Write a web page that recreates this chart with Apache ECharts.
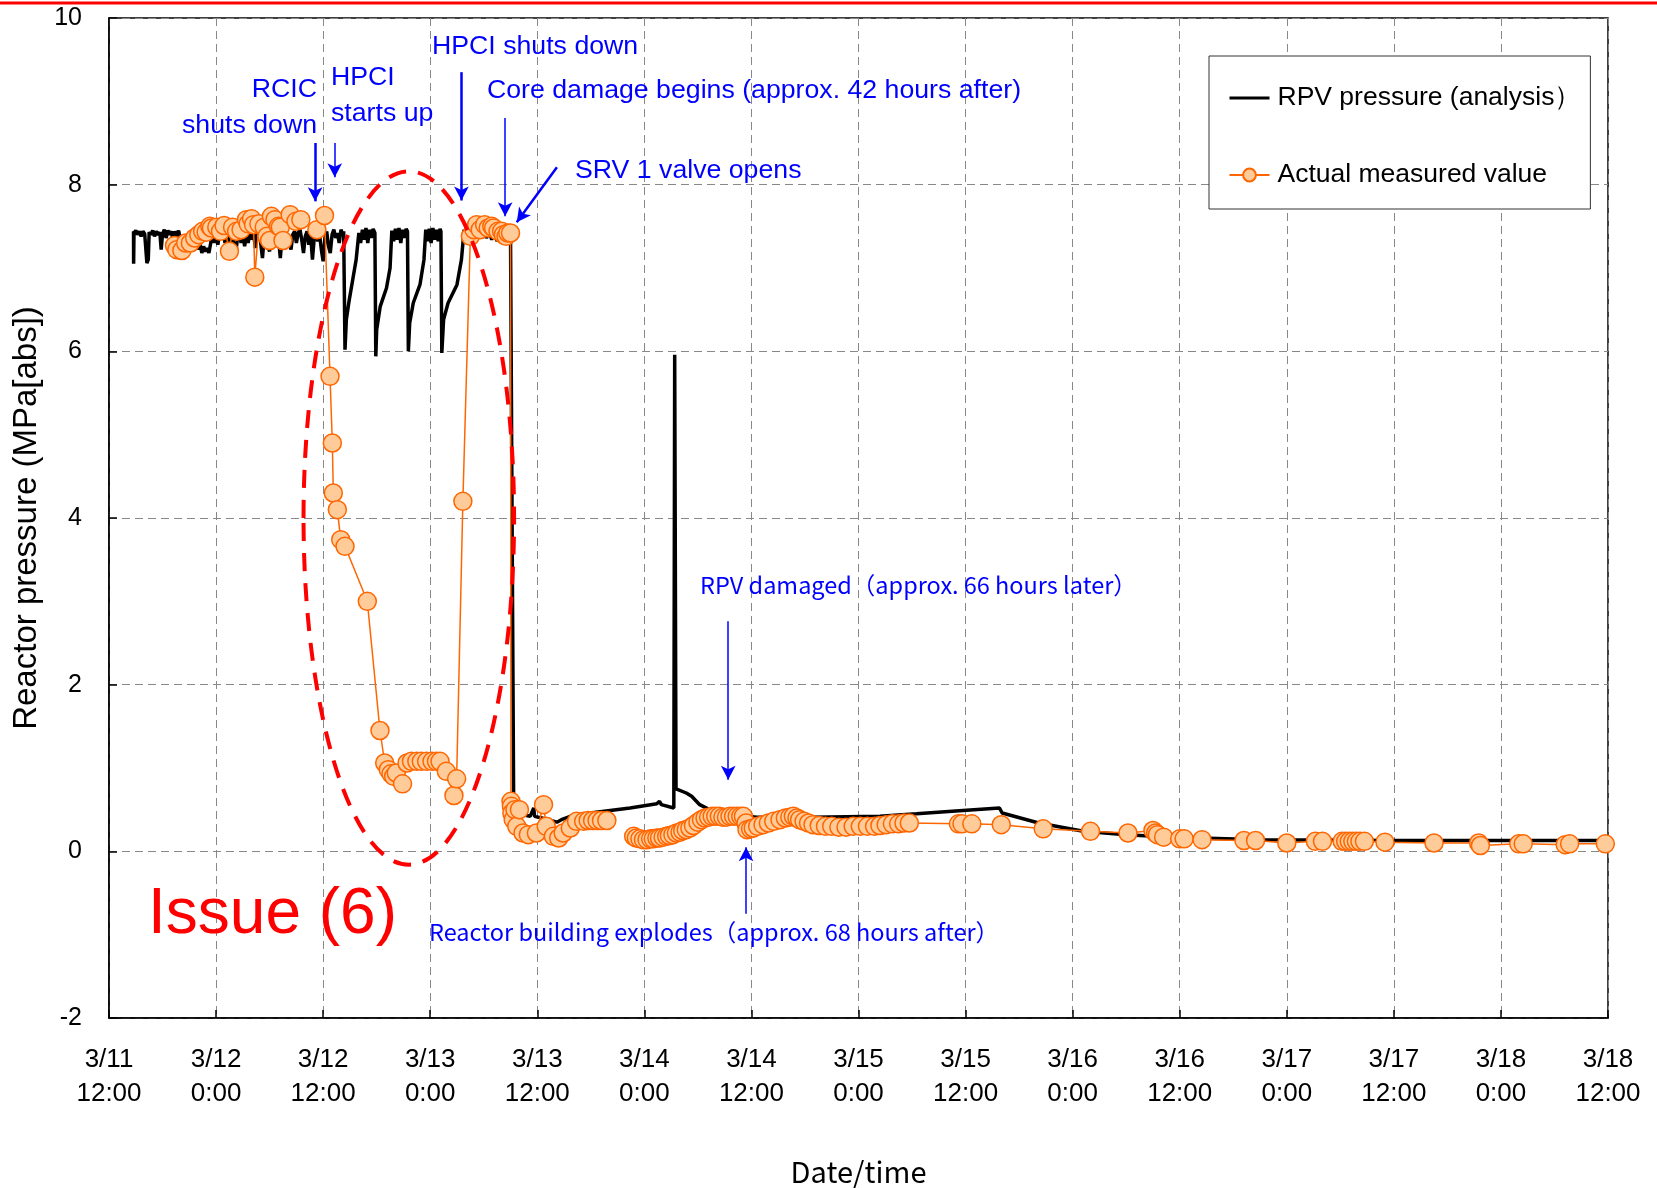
<!DOCTYPE html>
<html>
<head>
<meta charset="utf-8">
<title>Reactor pressure</title>
<style>
  html, body { margin: 0; padding: 0; background: #fff; }
</style>
</head>
<body>
<!-- chart area -->
<div id="container" style="width:1657px;height:1188px;"></div>
<script src="https://cdn.jsdelivr.net/npm/echarts@6/dist/echarts.min.js"></script>
<script type="text/javascript">
'use strict'
// x values are hours after 3/11 12:00, one tick every 12 hours
var tickLabels = ['3/11\n12:00', '3/12\n0:00', '3/12\n12:00', '3/13\n0:00', '3/13\n12:00',
  '3/14\n0:00', '3/14\n12:00', '3/15\n0:00', '3/15\n12:00', '3/16\n0:00', '3/16\n12:00',
  '3/17\n0:00', '3/17\n12:00', '3/18\n0:00', '3/18\n12:00'];

// RPV pressure (analysis) [hours, MPa]
var rpvAnalysis = [
  [2.75, 7.44], [2.76, 7.05], [2.8, 7.42], [3.0, 7.45], [3.2, 7.40], [3.4, 7.44], [3.6, 7.38], [3.8, 7.44],
  [4.0, 7.41], [4.2, 7.43], [4.25, 7.06], [4.4, 7.10], [4.5, 7.43], [4.7, 7.40], [4.9, 7.45], [5.1, 7.38],
  [5.3, 7.44], [5.5, 7.40], [5.7, 7.43], [5.85, 7.22], [6.0, 7.41], [6.2, 7.46], [6.4, 7.36], [6.6, 7.45],
  [6.8, 7.40], [7.0, 7.44], [7.2, 7.30], [7.4, 7.44], [7.6, 7.38], [7.8, 7.45], [8.0, 7.34], [8.2, 7.28],
  [8.4, 7.40], [8.6, 7.32], [8.8, 7.16], [9.0, 7.38], [9.2, 7.26], [9.4, 7.36], [9.6, 7.24], [9.8, 7.34],
  [10.0, 7.22], [10.2, 7.30], [10.4, 7.18], [10.6, 7.26], [10.8, 7.20], [11.0, 7.24], [11.2, 7.18], [11.4, 7.30],
  [11.6, 7.42], [11.8, 7.30], [12.0, 7.40], [12.2, 7.28], [12.4, 7.42], [12.6, 7.34], [12.8, 7.44], [13.0, 7.30],
  [13.2, 7.40], [13.4, 7.20], [13.6, 7.38], [13.8, 7.44], [14.0, 7.26], [14.2, 7.18], [14.4, 7.36], [14.6, 7.44],
  [14.8, 7.30], [15.0, 7.42], [15.2, 7.26], [15.4, 7.40], [15.6, 7.30], [15.8, 7.44], [16.0, 7.34], [16.2, 7.42],
  [16.4, 7.24], [16.6, 7.40], [16.8, 7.46], [17.0, 7.30], [17.2, 7.12], [17.4, 7.38], [17.6, 7.44], [17.8, 7.26],
  [18.0, 7.20], [18.2, 7.40], [18.4, 7.44], [18.6, 7.32], [18.8, 7.42], [19.0, 7.36], [19.2, 7.12], [19.4, 7.38],
  [19.6, 7.30], [19.8, 7.44], [20.0, 7.46], [20.2, 7.32], [20.4, 7.22], [20.6, 7.40], [20.8, 7.44], [21.0, 7.30],
  [21.2, 7.42], [21.4, 7.46], [21.6, 7.34], [21.8, 7.18], [22.0, 7.38], [22.2, 7.44], [22.4, 7.28], [22.6, 7.40],
  [22.8, 7.10], [23.0, 7.36], [23.2, 7.44], [23.4, 7.32], [23.6, 7.40], [23.8, 7.22], [24.0, 7.08], [24.2, 7.36],
  [24.4, 7.44], [24.6, 7.26], [24.8, 7.18], [25.0, 7.40], [25.2, 7.46], [25.4, 7.36], [25.6, 7.42], [25.8, 7.30],
  [26.0, 7.46], [26.2, 7.40], [26.3, 7.44],
  [26.45, 6.02], [26.6, 6.38], [26.9, 6.60], [27.3, 6.85], [27.7, 7.10], [28.0, 7.42], [28.2, 7.30], [28.4, 7.46],
  [28.6, 7.34], [28.8, 7.48], [29.0, 7.30], [29.2, 7.46], [29.4, 7.36], [29.6, 7.47], [29.8, 7.42],
  [29.9, 5.94], [30.0, 6.26], [30.4, 6.54], [31.1, 6.76], [31.5, 7.00], [31.7, 7.45], [31.9, 7.32], [32.1, 7.47],
  [32.3, 7.34], [32.5, 7.48], [32.7, 7.30], [32.9, 7.46], [33.1, 7.36], [33.3, 7.47], [33.45, 7.44],
  [33.55, 6.00], [33.7, 6.34], [34.1, 6.58], [34.85, 6.80], [35.3, 7.10], [35.5, 7.46], [35.7, 7.32], [35.9, 7.47],
  [36.1, 7.30], [36.3, 7.48], [36.5, 7.34], [36.7, 7.46], [36.9, 7.32], [37.1, 7.47], [37.2, 7.44],
  [37.3, 5.98], [37.5, 6.38], [38.0, 6.58], [39.0, 6.80], [39.5, 7.10], [39.8, 7.46], [40.0, 7.36], [40.3, 7.47],
  [40.6, 7.38], [40.8, 7.48], [41.1, 7.36], [41.4, 7.46], [41.7, 7.38], [42.0, 7.47], [42.3, 7.36], [42.6, 7.44],
  [42.9, 7.34], [43.2, 7.44], [43.5, 7.32], [43.8, 7.42], [44.1, 7.34], [44.4, 7.42], [44.7, 7.32], [45.0, 7.40],
  [45.2, 7.40],
  [45.35, 0.60], [45.5, 0.46], [47.2, 0.42], [47.6, 0.52], [47.7, 0.42], [48.5, 0.40], [50.2, 0.35], [50.7, 0.38],
  [51.7, 0.42], [54.6, 0.47], [58.4, 0.52], [61.4, 0.57], [61.7, 0.60], [61.9, 0.56], [63.3, 0.52],
  [63.4, 5.96], [63.55, 0.75], [64.7, 0.70], [65.3, 0.66], [66.2, 0.56], [67.3, 0.50], [69.0, 0.45],
  [71.5, 0.42], [72.6, 0.41], [78.9, 0.41], [86.4, 0.42], [90.5, 0.45], [95.7, 0.49], [99.8, 0.52], [100.1, 0.46],
  [104.2, 0.34], [109.2, 0.24], [114.0, 0.20], [119.2, 0.17], [129.2, 0.14], [144.2, 0.13], [168.0, 0.13]
];

// Actual measured value [hours, MPa]
var measured = [
  [7.34, 7.27], [7.6, 7.22], [8.17, 7.21], [8.6, 7.30], [9.12, 7.30], [9.6, 7.36], [10.06, 7.40], [10.5, 7.44],
  [10.89, 7.43], [11.3, 7.50], [11.48, 7.48], [12.08, 7.49], [12.5, 7.44], [12.9, 7.51], [13.5, 7.20],
  [13.85, 7.49], [14.3, 7.44], [14.8, 7.46], [15.4, 7.58], [15.6, 7.53], [15.98, 7.59], [16.2, 7.52],
  [16.34, 6.89], [16.8, 7.53], [17.4, 7.49], [17.7, 7.38], [18.0, 7.33], [18.2, 7.62], [18.6, 7.58],
  [19.0, 7.50], [19.2, 7.49], [19.5, 7.33], [20.3, 7.64], [20.95, 7.56], [21.5, 7.58], [23.3, 7.46],
  [24.15, 7.63],
  [24.77, 5.70], [25.03, 4.90], [25.14, 4.30], [25.59, 4.10], [25.97, 3.74], [26.45, 3.66], [28.95, 3.00],
  [30.37, 1.45], [30.9, 1.06], [31.3, 0.98], [31.6, 0.93], [31.9, 0.90], [32.2, 0.94], [32.9, 0.81],
  [33.4, 1.06], [33.9, 1.08], [34.5, 1.08], [35.0, 1.08], [35.6, 1.08], [36.2, 1.08], [36.7, 1.08],
  [37.1, 1.08], [37.8, 0.96], [38.66, 0.67], [38.96, 0.87], [39.66, 4.20],
  [40.5, 7.38], [40.9, 7.46], [41.2, 7.52], [41.6, 7.46], [42.1, 7.52], [42.5, 7.48], [42.9, 7.50],
  [43.1, 7.48], [43.6, 7.44], [44.0, 7.44], [44.2, 7.40], [44.5, 7.38], [44.7, 7.42], [45.0, 7.42],
  [45.05, 0.60], [45.1, 0.54], [45.15, 0.46], [45.3, 0.38], [45.5, 0.50], [45.7, 0.30], [46.0, 0.50],
  [46.4, 0.22], [47.0, 0.20], [47.9, 0.22], [48.7, 0.56], [49.0, 0.30], [49.8, 0.18], [50.4, 0.16],
  [50.9, 0.22], [51.7, 0.28], [52.4, 0.36], [53.2, 0.36], [53.7, 0.37], [54.2, 0.37], [54.7, 0.37],
  [55.2, 0.37], [55.8, 0.37],
  [57.0, null],
  [58.8, 0.18], [59.1, 0.16], [59.5, 0.15], [59.9, 0.14], [60.3, 0.14], [60.7, 0.15], [61.0, 0.15],
  [61.4, 0.16], [61.7, 0.16], [62.1, 0.17], [62.5, 0.18], [62.8, 0.19], [63.2, 0.20], [63.6, 0.22],
  [64.0, 0.23], [64.3, 0.25], [64.7, 0.26], [65.1, 0.28], [65.5, 0.31], [66.0, 0.35], [66.4, 0.38],
  [66.8, 0.40], [67.2, 0.41], [67.6, 0.42], [68.0, 0.42], [68.4, 0.42], [68.8, 0.41], [69.2, 0.41],
  [69.6, 0.42], [70.0, 0.42], [70.4, 0.42], [70.8, 0.42], [71.1, 0.42], [71.4, 0.34], [71.5, 0.26],
  [71.9, 0.27], [72.2, 0.28], [72.7, 0.30], [73.3, 0.32], [73.9, 0.34], [74.5, 0.36], [75.2, 0.38],
  [75.8, 0.40], [76.3, 0.41], [76.7, 0.42], [77.1, 0.40], [77.4, 0.38], [77.9, 0.36], [78.4, 0.34],
  [78.9, 0.32], [79.6, 0.31], [80.3, 0.30], [81.0, 0.30], [81.8, 0.29], [82.6, 0.29], [83.4, 0.30],
  [84.2, 0.30], [85.0, 0.30], [85.8, 0.30], [86.4, 0.31], [87.1, 0.32], [87.8, 0.33], [88.5, 0.33],
  [89.1, 0.34], [89.7, 0.34], [95.2, 0.33], [95.6, 0.33], [96.7, 0.33], [100.0, 0.32], [104.7, 0.27],
  [110.0, 0.24], [114.2, 0.22], [117.0, 0.25], [117.3, 0.22], [117.5, 0.20], [118.2, 0.17], [120.0, 0.15],
  [120.5, 0.15], [122.5, 0.14], [127.2, 0.13], [128.5, 0.13], [132.0, 0.10], [135.2, 0.12], [136.0, 0.12],
  [138.2, 0.12], [138.6, 0.12], [139.0, 0.12], [139.4, 0.12], [139.8, 0.12], [140.2, 0.12], [140.7, 0.12],
  [143.0, 0.11], [148.5, 0.10], [153.5, 0.10], [153.7, 0.07], [158.0, 0.09], [158.5, 0.09], [163.2, 0.08],
  [163.7, 0.09], [167.7, 0.09]
];

// event arrows: [from, to] in [hours, MPa]
var eventArrows = [
  [[23.1, 8.50], [23.1, 7.80]],   // RCIC shuts down
  [[25.3, 8.50], [25.3, 8.09]],   // HPCI starts up
  [[39.5, 9.35], [39.5, 7.81]],   // HPCI shuts down
  [[44.4, 8.80], [44.4, 7.62]],   // core damage begins
  [[50.2, 8.21], [45.7, 7.55]],   // SRV 1 valve opens
  [[69.4, 2.76], [69.4, 0.86]],   // RPV damaged
  [[71.4, -0.75], [71.4, 0.05]]   // reactor building explodes
];
var arrowWidths = [2.5, 1.5, 2.5, 1.5, 2.5, 1.5, 1.5];

var latinFont = '"Liberation Sans", Arial, sans-serif';
var cjkFont = '"Noto Sans CJK JP", sans-serif';

var myChart = echarts.init(document.getElementById('container'));

var option = {
  animation: false,
  backgroundColor: '#fff',
  grid: {
    show: true,
    left: 109,
    right: 49,
    top: 18,
    bottom: 170,
    // keep the plot box fixed, do not shrink it for the axis names
    outerBoundsMode: 'none',
    borderColor: '#000',
    borderWidth: 1.5
  },
  legend: {
    orient: 'vertical',
    left: 1209,
    top: 56,
    padding: [27, 9, 19, 19],
    itemGap: 47,
    itemWidth: 40,
    itemHeight: 16,
    backgroundColor: '#fff',
    borderColor: '#333',
    borderWidth: 1,
    textStyle: { fontSize: 26.5, fontFamily: latinFont, color: '#000', lineHeight: 30, padding: [0, 0, 0, 3] },
    data: [
      { name: 'RPV pressure (analysis）', itemStyle: { opacity: 0 }, lineStyle: { width: 3 } },
      'Actual measured value'
    ]
  },
  xAxis: {
    type: 'value',
    min: 0,
    max: 168,
    interval: 12,
    name: 'Date/time',
    nameLocation: 'middle',
    nameGap: 139,
    nameTextStyle: { fontSize: 29, fontFamily: cjkFont, color: '#000' },
    axisLine: { onZero: false, lineStyle: { color: '#000', width: 1.5 } },
    axisTick: { inside: true, length: 8, lineStyle: { color: '#000', width: 1.5 } },
    axisLabel: {
      margin: 25,
      fontSize: 26,
      lineHeight: 34,
      fontFamily: latinFont,
      color: '#000',
      formatter: function (v) { return tickLabels[Math.round(v / 12)]; }
    },
    splitLine: { show: true, lineStyle: { color: '#888', width: 1, type: [8, 5] } }
  },
  yAxis: {
    type: 'value',
    min: -2,
    max: 10,
    interval: 2,
    name: 'Reactor pressure (MPa[abs])',
    nameLocation: 'middle',
    nameGap: 61,
    nameTextStyle: { fontSize: 33, fontFamily: latinFont, color: '#000' },
    axisLine: { show: true, onZero: false, lineStyle: { color: '#000', width: 1.5 } },
    axisTick: { show: true, inside: true, length: 8, lineStyle: { color: '#000', width: 1.5 } },
    axisLabel: { margin: 27, fontSize: 25, fontFamily: latinFont, color: '#000' },
    splitLine: { show: true, lineStyle: { color: '#888', width: 1, type: [8, 5] } }
  },
  series: [
    {
      name: 'RPV pressure (analysis）',
      type: 'line',
      data: rpvAnalysis,
      showSymbol: false,
      symbol: 'none',
      color: '#000',
      lineStyle: { color: '#000', width: 3.5 },
      z: 2,
      markLine: {
        silent: true,
        symbol: ['none', 'arrow'],
        symbolSize: [11, 14],
        label: { show: false },
        data: eventArrows.map(function (a, i) {
          return [
            { coord: a[0], lineStyle: { color: '#0000ff', width: arrowWidths[i], type: 'solid' } },
            { coord: a[1] }
          ];
        })
      }
    },
    {
      name: 'Actual measured value',
      type: 'line',
      data: measured,
      symbol: 'circle',
      symbolSize: 18,
      showAllSymbol: true,
      connectNulls: false,
      color: '#ff6600',
      lineStyle: { color: '#ff6600', width: 1.5 },
      itemStyle: { color: '#ffcc99', borderColor: '#ff6600', borderWidth: 1.5 },
      z: 3
    }
  ]
};
myChart.setOption(option);

// red dashed ellipse around the HPCI period, placed in data units
var ellipseCenter = [33.6, 4.0];
var ellipseRadius = [11.8, 4.16];
var c = myChart.convertToPixel({ gridIndex: 0 }, ellipseCenter);
var e = myChart.convertToPixel({ gridIndex: 0 }, [ellipseCenter[0] + ellipseRadius[0], ellipseCenter[1] + ellipseRadius[1]]);

function note(text, x, y, align, font, color) {
  return {
    type: 'text',
    z: 100,
    style: {
      text: text, x: x, y: y,
      textAlign: align, textVerticalAlign: 'middle',
      font: font, fill: color
    }
  };
}
var blueFont = '26.7px ' + latinFont;
var blueCjk = '23.5px ' + cjkFont;

myChart.setOption({
  graphic: [
    // red line across the top of the page
    { type: 'line', z: 100, shape: { x1: 0, y1: 3, x2: 1657, y2: 3 }, style: { stroke: '#ff0000', lineWidth: 3 } },
    {
      type: 'ellipse', z: 90,
      shape: { cx: c[0], cy: c[1], rx: e[0] - c[0], ry: c[1] - e[1] },
      style: { fill: 'none', stroke: '#ff0000', lineWidth: 4, lineDash: [18, 12] }
    },
    note('RCIC', 317, 90, 'right', blueFont, '#0000ff'),
    note('shuts down', 317, 126, 'right', blueFont, '#0000ff'),
    note('HPCI', 331, 78, 'left', blueFont, '#0000ff'),
    note('starts up', 331, 114, 'left', blueFont, '#0000ff'),
    note('HPCI shuts down', 432, 47, 'left', blueFont, '#0000ff'),
    note('Core damage begins (approx. 42 hours after)', 487, 91, 'left', blueFont, '#0000ff'),
    note('SRV 1 valve opens', 575, 171, 'left', blueFont, '#0000ff'),
    note('RPV damaged（approx. 66 hours later）', 700, 585, 'left', blueCjk, '#0000ff'),
    note('Reactor building explodes（approx. 68 hours after）', 429, 932, 'left', blueCjk, '#0000ff'),
    note('Issue (6)', 148, 915, 'left', '64px ' + latinFont, '#ff0000')
  ]
});
</script>
</body>
</html>
